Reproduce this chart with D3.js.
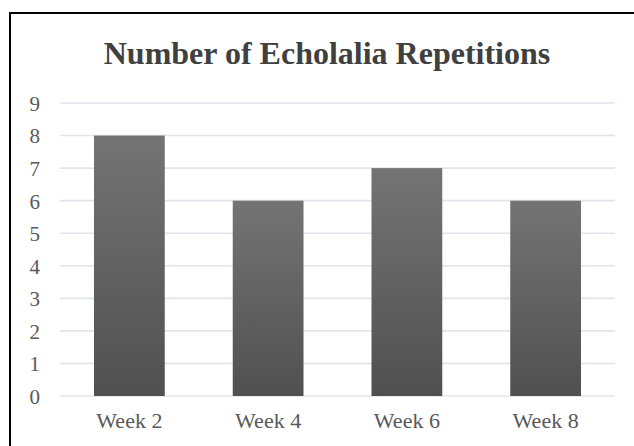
<!DOCTYPE html>
<html>
<head>
<meta charset="utf-8">
<script src="https://cdn.jsdelivr.net/npm/d3@7"></script>
<style>
  html, body { margin: 0; padding: 0; background: #fff; }
  svg { display: block; }
</style>
</head>
<body>
<svg id="chart" width="634" height="446"></svg>
<script>
const title = "Number of Echolalia Repetitions";
const categories = ["Week 2", "Week 4", "Week 6", "Week 8"];
const repetitions = [8, 6, 7, 6];
const yTicks = [0, 1, 2, 3, 4, 5, 6, 7, 8, 9];

const svg = d3.select("#chart");
const W = 634, H = 446;
const plot = { left: 60, right: 615, top: 103, bottom: 396 };

// frame around the chart area (runs past the right and bottom edges)
svg.append("rect")
  .attr("x", 10).attr("y", 13)
  .attr("width", W).attr("height", H)
  .attr("fill", "#fff")
  .attr("stroke", "#000")
  .attr("stroke-width", 2);

const defs = svg.append("defs");
const grad = defs.append("linearGradient")
  .attr("id", "barFill")
  .attr("x1", 0).attr("y1", 0).attr("x2", 0).attr("y2", 1);
grad.append("stop").attr("offset", "0%").attr("stop-color", "#747474");
grad.append("stop").attr("offset", "100%").attr("stop-color", "#505050");

const x = d3.scaleBand()
  .domain(categories)
  .range([plot.left, plot.right])
  .paddingInner(0.49)
  .paddingOuter(0.245);

const y = d3.scaleLinear()
  .domain([0, 9])
  .range([plot.bottom, plot.top]);

// horizontal gridlines
svg.append("g")
  .selectAll("line")
  .data(yTicks)
  .join("line")
  .attr("x1", plot.left).attr("x2", plot.right)
  .attr("y1", d => y(d)).attr("y2", d => y(d))
  .attr("stroke", "#e1e4eb")
  .attr("stroke-width", 1.6);

// y axis labels
const yAxis = d3.axisLeft(y).tickValues(yTicks).tickSize(0).tickPadding(0);
const gy = svg.append("g")
  .attr("transform", `translate(${plot.left - 20},0)`)
  .call(yAxis);
gy.select(".domain").remove();
gy.selectAll("text")
  .attr("fill", "#595959")
  .attr("font-family", "'Liberation Serif', 'Times New Roman', serif")
  .attr("font-size", 21)
  .attr("dy", "0.35em");

// bars
svg.append("g")
  .selectAll("rect")
  .data(repetitions)
  .join("rect")
  .attr("x", (d, i) => x(categories[i]))
  .attr("width", x.bandwidth())
  .attr("y", d => y(d))
  .attr("height", d => y(0) - y(d))
  .attr("fill", "url(#barFill)");

// category labels
const xAxis = d3.axisBottom(x).tickSize(0).tickPadding(0);
const gx = svg.append("g")
  .attr("transform", `translate(0,${plot.bottom + 32})`)
  .call(xAxis);
gx.select(".domain").remove();
gx.selectAll("text")
  .attr("fill", "#595959")
  .attr("font-family", "'Liberation Serif', 'Times New Roman', serif")
  .attr("font-size", 22)
  .attr("dy", 0);

// title
svg.append("text")
  .attr("x", 327)
  .attr("y", 64)
  .attr("text-anchor", "middle")
  .attr("fill", "#404040")
  .attr("font-family", "'Liberation Serif', 'Times New Roman', serif")
  .attr("font-weight", "bold")
  .attr("font-size", 32)
  .text(title);
</script>
</body>
</html>
